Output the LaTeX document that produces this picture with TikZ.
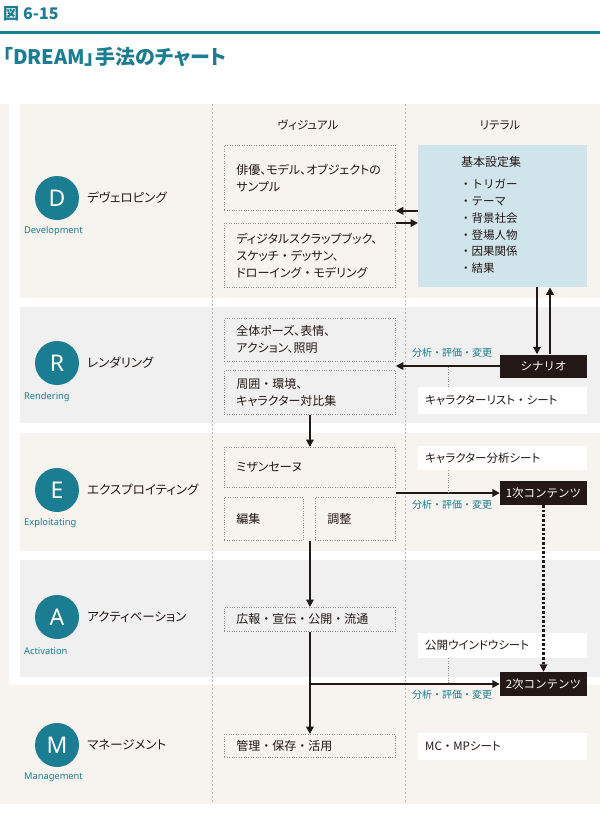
\documentclass[tikz,border=0pt]{standalone}
\usepackage{fontspec}
\setmainfont{Noto Sans CJK JP}
\newfontfamily\pf{Noto Sans CJK JP}[RawFeature=+palt]
\newfontfamily\latinf{Noto Sans}
\usetikzlibrary{arrows.meta}
\definecolor{teal}{RGB}{27,125,146}
\definecolor{beige}{RGB}{247,244,239}
\definecolor{greyband}{RGB}{240,240,240}
\definecolor{lblue}{RGB}{207,228,235}
\definecolor{txt}{RGB}{35,24,21}
\definecolor{dotgray}{RGB}{140,140,140}
\definecolor{colgray}{RGB}{185,185,185}
\newcommand\myfs[2]{\fontsize{#1}{#2}\selectfont}
\newcommand\mdot{{\rmfamily ・}}
\begin{document}
\begin{tikzpicture}[x=1pt,y=-1pt,
  dotbox/.style n args={3}{draw=dotgray, line width=0.8pt, dash pattern=on 0.8pt off 1.6pt,
     anchor=north west, inner xsep=12pt, inner ysep=0pt, align=left,
     minimum width=#1, minimum height=#2, text width=#3, font=\pf\myfs{12}{17}, text=txt},
  wbox/.style={fill=white, anchor=north west, inner xsep=7pt, inner ysep=0pt, align=left,
     minimum width=169pt, minimum height=#1, text width=155pt, font=\pf\myfs{11.5}{14}, text=txt},
  bbox/.style={fill=txt, text=white, minimum width=87pt, minimum height=24pt, inner sep=0pt, font=\rmfamily\myfs{11.5}{14}},
  phase/.style={circle, fill=teal, text=white, minimum size=44pt, inner sep=0pt, font=\latinf\myfs{23}{23}},
  plabel/.style={anchor=west, inner sep=0pt, text=txt, font=\pf\myfs{12.5}{14}},
  elabel/.style={anchor=west, inner sep=0pt, text=teal, font=\latinf\bfseries\myfs{9.3}{10}},
  tlabel/.style={inner sep=0pt, text=teal, font=\rmfamily\myfs{10}{12}},
  arr/.style={draw=txt, line width=2pt, -{Triangle[length=7.5pt,width=7.5pt]}},
  darr/.style={draw=txt, line width=2.6pt, dash pattern=on 2.6pt off 2pt, -{Triangle[length=7.5pt,width=7.5pt]}},
  dotline/.style={draw=dotgray, line width=0.8pt, dash pattern=on 0.8pt off 1.6pt},
  colline/.style={draw=colgray, line width=0.7pt, dash pattern=on 2pt off 2pt}
]
\useasboundingbox (0,0) rectangle (600,817);
\fill[white] (0,0) rectangle (600,817);
% header
\node[anchor=west, inner sep=0pt, text=teal, font=\rmfamily\bfseries\myfs{16}{16}] (fig) at (3,14) {図\hspace{4pt}6-15};
\draw[teal, line width=3pt] (0,32) -- (600,32);
\node[anchor=west, inner sep=0pt, text=teal, font=\pf\bfseries\myfs{20}{20}] (title) at (3,57) {「DREAM」手法のチャート};
% backgrounds
\fill[beige] (0,104) rectangle (600,804);
\fill[white] (9,104) rectangle (600,685);
\fill[beige] (20,104) rectangle (600,298);
\fill[greyband] (20,307) rectangle (600,423);
\fill[beige] (20,433) rectangle (600,551);
\fill[greyband] (20,560) rectangle (600,677);
\draw[colline] (212,104) -- (212,804);
\draw[colline] (405,104) -- (405,804);
% column headers
\node[inner sep=0pt, text=txt, font=\pf\myfs{11.5}{14}] (hv) at (308,125) {ヴィジュアル};
\node[inner sep=0pt, text=txt, font=\pf\myfs{11.5}{14}] (hl) at (500,125) {リテラル};
% phases
\node[phase] (cD) at (57,198) {D};
\node[plabel] (lD) at (87,198) {デヴェロピング};
\node[elabel] (eD) at (24,231) {Development};
\node[phase] (cR) at (57,363) {R};
\node[plabel] (lR) at (87,363) {レンダリング};
\node[elabel] (eR) at (24,397) {Rendering};
\node[phase] (cE) at (57,490) {E};
\node[plabel] (lE) at (87,490) {エクスプロイティング};
\node[elabel] (eE) at (24,523) {Exploitating};
\node[phase] (cA) at (57,617) {A};
\node[plabel] (lA) at (87,617) {アクティベーション};
\node[elabel] (eA) at (24,651) {Activation};
\node[phase] (cM) at (57,745) {M};
\node[plabel] (lM) at (87,745) {マネージメント};
\node[elabel] (eM) at (24,777) {Management};
% visual column boxes
\node[dotbox={171pt}{65pt}{147pt}] (D1) at (224,145) {俳優、モデル、オブジェクトの\\サンプル};
\node[dotbox={171pt}{64pt}{147pt}] (D2) at (224,223) {ディジタルスクラップブック、\\スケッチ\mdot デッサン、\\ドローイング\mdot モデリング};
\node[dotbox={171pt}{43pt}{147pt}] (R1) at (224,318) {全体ポーズ、表情、\\アクション、照明};
\node[dotbox={171pt}{44pt}{147pt}] (R2) at (224,370) {周囲\mdot 環境、\\キャラクター対比集};
\node[dotbox={171pt}{40pt}{147pt}] (E1) at (224,447) {ミザンセーヌ};
\node[dotbox={79pt}{43pt}{55pt}] (E2) at (224,497) {編集};
\node[dotbox={80pt}{43pt}{56pt}] (E3) at (315,497) {調整};
\node[dotbox={171pt}{24pt}{147pt}] (A1) at (224,607) {広報\mdot 宣伝\mdot 公開\mdot 流通};
\node[dotbox={171pt}{23pt}{147pt}] (M1) at (224,734) {管理\mdot 保存\mdot 活用};
% literal column
\node[fill=lblue, anchor=north west, minimum width=169pt, minimum height=142pt, inner sep=0pt] (basic) at (418,145) {};
\node[inner sep=0pt, text=txt, font=\rmfamily\myfs{12}{14}] (basicT) at (491,162) {基本設定集};
\node[anchor=north west, inner sep=0pt, align=left, text=txt, font=\rmfamily\myfs{11.5}{16.8}] (basicL) at (460,179) {・トリガー\\・テーマ\\・背景社会\\・登場人物\\・因果関係\\・結果};
\node[wbox=27pt] (clist) at (418,387) {キャラクターリスト\mdot シート};
\node[wbox=24pt] (canal) at (418,446) {キャラクター分析シート};
\node[wbox=25pt] (cwin) at (418,633) {公開ウインドウシート};
\node[wbox=27pt] (cmc) at (418,733) {MC\mdot MPシート};
\node[bbox, minimum height=23pt] (scen) at (543.5,366) {シナリオ};
\node[bbox] (p1) at (543.5,493) {1次コンテンツ};
\node[bbox] (p2) at (543.5,684) {2次コンテンツ};
% teal labels
\node[tlabel] (t1) at (452,353) {分析・評価・変更};
\node[tlabel] (t2) at (452,505) {分析・評価・変更};
\node[tlabel] (t3) at (452,695) {分析・評価・変更};
% connectors
\draw[arr] (basic.west |- D1.south) -- (D1.south east);
\draw[arr] (D2.north east) -- (basic.west |- D2.north);
\coordinate (sdn) at ([xshift=-6.5pt]scen.north);
\coordinate (sup) at ([xshift=6.5pt]scen.north);
\draw[arr] (sdn |- basic.south) -- (sdn);
\draw[arr] (sup) -- (sup |- basic.south);
\draw[arr] (scen.west) -- (R1.east |- scen.west);
\coordinate (k1) at ([xshift=30pt]clist.north west);
\draw[dotline] (k1) -- (k1 |- scen.west);
\draw[arr] (R2.south) -- (E1.north);
\draw[arr] (E1.east |- p1.west) -- (p1.west);
\coordinate (k2) at ([xshift=30pt]canal.south west);
\draw[dotline] (k2) -- (k2 |- p1.west);
\draw[darr] (p1.south) -- (p2.north);
\draw[arr] (E2.south -| A1.north) -- (A1.north);
\coordinate (br) at (A1.south |- p2.west);
\draw[draw=txt, line width=2pt] (A1.south) -- (br);
\draw[arr] ([xshift=-1pt]br) -- (p2.west);
\draw[arr] (br) -- (M1.north);
\coordinate (k3) at ([xshift=30pt]cwin.south west);
\draw[dotline] (k3) -- (k3 |- p2.west);
\end{tikzpicture}
\end{document}
